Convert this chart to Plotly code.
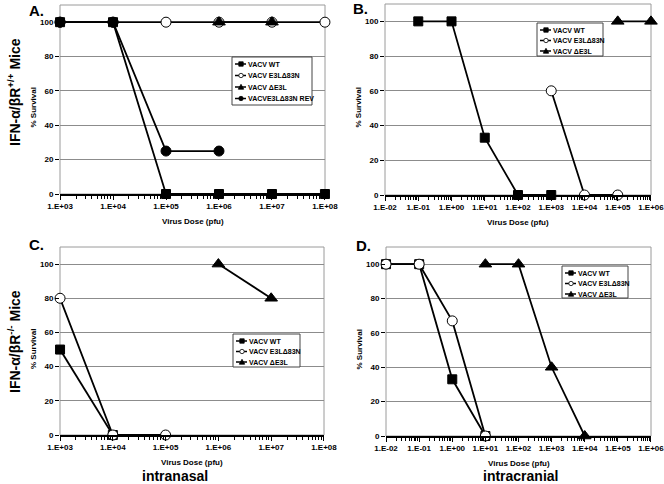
import plotly.graph_objects as go

# ---------------- data ----------------
names_A = ["VACV WT", "VACV E3LΔ83N", "VACV ΔE3L", "VACVE3LΔ83N REV"]
names_3 = ["VACV WT", "VACV E3LΔ83N", "VACV ΔE3L"]

# Panel A (IFN-a/bR+/+, intranasal)
A_wt_x = [1e3, 1e4, 1e5, 1e6, 1e7, 1e8]
A_wt_y = [100, 100, 0, 0, 0, 0]
A_e3_x = [1e3, 1e4, 1e5, 1e6, 1e7, 1e8]
A_e3_y = [100, 100, 100, 100, 100, 100]
A_de_x = [1e6, 1e7]
A_de_y = [100, 100]
A_rev_x = [1e3, 1e4, 1e5, 1e6]
A_rev_y = [100, 100, 25, 25]

# Panel B (IFN-a/bR+/+, intracranial)
B_wt_x = [1e-1, 1e0, 1e1, 1e2, 1e3]
B_wt_y = [100, 100, 33, 0, 0]
B_e3_x = [1e3, 1e4, 1e5]
B_e3_y = [60, 0, 0]
B_de_x = [1e5, 1e6]
B_de_y = [100, 100]

# Panel C (IFN-a/bR-/-, intranasal)
C_wt_x = [1e3, 1e4]
C_wt_y = [50, 0]
C_e3_x = [1e3, 1e4, 1e5]
C_e3_y = [80, 0, 0]
C_de_x = [1e6, 1e7]
C_de_y = [100, 80]

# Panel D (IFN-a/bR-/-, intracranial)
D_wt_x = [1e-2, 1e-1, 1e0, 1e1]
D_wt_y = [100, 100, 33, 0]
D_e3_x = [1e-2, 1e-1, 1e0, 1e1]
D_e3_y = [100, 100, 67, 0]
D_de_x = [1e1, 1e2, 1e3, 1e4]
D_de_y = [100, 100, 40, 0]

xt_in = [3, 4, 5, 6, 7, 8]
xt_ic = [-2, -1, 0, 1, 2, 3, 4, 5, 6]
yt = [0, 20, 40, 60, 80, 100]


def lab(k):
    return "1.E%s%02d" % ("+" if k >= 0 else "-", abs(k))


FONT = "Liberation Sans, Arial, sans-serif"
W, H = 664, 484


def px(x):
    return x / W


def py(y):
    return 1 - y / H


fig = go.Figure()

sty = {
    "VACV WT": dict(symbol="square", color="black", line=dict(color="black", width=1), size=9),
    "VACV E3LΔ83N": dict(symbol="circle", color="white", line=dict(color="black", width=1), size=10),
    "VACV ΔE3L": dict(symbol="triangle-up", color="black", line=dict(color="black", width=1), size=11),
    "VACVE3LΔ83N REV": dict(symbol="circle", color="black", line=dict(color="black", width=1), size=10),
}


def add(xs, ys, name, ax):
    fig.add_trace(go.Scatter(
        x=xs, y=ys, name=name, mode="lines+markers",
        line=dict(color="black", width=1.8),
        marker=sty[name], cliponaxis=False, showlegend=False,
        xaxis="x" + ax, yaxis="y" + ax,
    ))


add(A_e3_x, A_e3_y, names_A[1], "")
add(A_rev_x, A_rev_y, names_A[3], "")
add(A_wt_x, A_wt_y, names_A[0], "")
add(A_de_x, A_de_y, names_A[2], "")

add(B_wt_x, B_wt_y, names_3[0], "2")
add(B_e3_x, B_e3_y, names_3[1], "2")
add(B_de_x, B_de_y, names_3[2], "2")

add(C_wt_x, C_wt_y, names_3[0], "3")
add(C_e3_x, C_e3_y, names_3[1], "3")
add(C_de_x, C_de_y, names_3[2], "3")

add(D_wt_x, D_wt_y, names_3[0], "4")
add(D_e3_x, D_e3_y, names_3[1], "4")
add(D_de_x, D_de_y, names_3[2], "4")

# panel geometry in pixels: (x0, x1, ybottom, ytop) measured from top
panels = {
    "": (60, 325, 194, 5),
    "2": (385, 651, 195, 4),
    "3": (60, 324, 435, 247),
    "4": (386, 651, 436, 247),
}
xt_map = {"": xt_in, "2": xt_ic, "3": xt_in, "4": xt_ic}

tickfont = dict(family=FONT, size=8, color="black", weight="bold")
layout = dict(
    width=W, height=H, margin=dict(l=0, r=0, t=0, b=0),
    paper_bgcolor="white", plot_bgcolor="white",
    font=dict(family=FONT, color="black"),
    showlegend=False,
)

shapes = []
ann = []
small = dict(family=FONT, size=8, color="black", weight="bold")
EPS = 0.001
for ax, (x0, x1, yb, ytp) in panels.items():
    ks = xt_map[ax]
    layout["xaxis" + ax] = dict(
        type="log", range=[ks[0] - EPS, ks[-1] + EPS], domain=[px(x0), px(x1)],
        anchor="y" + ax, automargin=False, ticklabeloverflow="allow",
        tickvals=[10 ** k for k in ks], ticktext=[lab(k) for k in ks],
        tickfont=tickfont, showgrid=False, zeroline=False,
        showline=True, linecolor="black", linewidth=1.5,
        ticks="outside", ticklen=4, tickcolor="black",
        minor=dict(ticks="outside", ticklen=3, tickcolor="black", dtick="D1", showgrid=False),
    )
    layout["yaxis" + ax] = dict(
        range=[0, 110], domain=[py(yb), py(ytp)], anchor="x" + ax, automargin=False,
        tickvals=yt, ticktext=[str(v) for v in yt],
        tickfont=tickfont, showgrid=True, gridcolor="#8c8c8c", gridwidth=1,
        zeroline=False, showline=False,
        ticks="outside", ticklen=4, tickcolor="black",
    )
    shapes.append(dict(type="rect", xref=("x" + ax) + " domain", yref=("y" + ax) + " domain",
                       x0=0, x1=1, y0=0, y1=1, line=dict(color="#9a9a9a", width=1), layer="below"))
    # axis titles
    ann.append(dict(text="Virus Dose (pfu)", x=px((x0 + x1) / 2), y=py(yb + 27), xref="paper", yref="paper",
                    xanchor="center", yanchor="middle", showarrow=False, font=small))
    ann.append(dict(text="% Survival", x=px(x0 - 27), y=py((yb + ytp) / 2 + 8), xref="paper", yref="paper",
                    textangle=-90, xanchor="center", yanchor="middle", showarrow=False, font=small))

# ---------------- manual legends ----------------
legfont = dict(family=FONT, size=7, color="black", weight="bold")


def legend_box(x0, y0, x1, y1, names, step):
    shapes.append(dict(type="rect", xref="paper", yref="paper", x0=px(x0), x1=px(x1), y0=py(y0), y1=py(y1),
                       line=dict(color="#444", width=1), fillcolor="white", layer="above"))
    for i, n in enumerate(names):
        yy = y0 + 7 + i * step
        lx0, lx1, mx = x0 + 3, x0 + 14, x0 + 9
        shapes.append(dict(type="line", xref="paper", yref="paper", x0=px(lx0), x1=px(lx1),
                           y0=py(yy), y1=py(yy), line=dict(color="black", width=1.5), layer="above"))
        s = sty[n]["symbol"]
        fill = sty[n]["color"]
        r = 2.2
        if s == "square":
            shapes.append(dict(type="rect", xref="paper", yref="paper", x0=px(mx - r), x1=px(mx + r),
                               y0=py(yy - r), y1=py(yy + r), fillcolor=fill,
                               line=dict(color="black", width=0.8), layer="above"))
        elif s == "circle":
            shapes.append(dict(type="circle", xref="paper", yref="paper", x0=px(mx - r), x1=px(mx + r),
                               y0=py(yy - r), y1=py(yy + r), fillcolor=fill,
                               line=dict(color="black", width=0.8), layer="above"))
        else:
            path = "M %f %f L %f %f L %f %f Z" % (px(mx - r - 0.5), py(yy + r), px(mx + r + 0.5), py(yy + r),
                                                  px(mx), py(yy - r - 0.5))
            shapes.append(dict(type="path", xref="paper", yref="paper", path=path, fillcolor=fill,
                               line=dict(color="black", width=0.8), layer="above"))
        ann.append(dict(text=n, x=px(x0 + 14), y=py(yy), xref="paper", yref="paper",
                        xanchor="left", yanchor="middle", showarrow=False, font=legfont))


legend_box(232, 57, 312, 105, names_A, 11.5)
legend_box(537, 23, 603, 56, names_3, 10.5)
legend_box(233, 334, 300, 367, names_3, 10.5)
legend_box(562, 266, 628, 298, names_3, 10.5)

layout["shapes"] = shapes

big = dict(family=FONT, size=15, color="black", weight="bold")
for txt, x, y in [("A.", 27, 10), ("B.", 351, 9), ("C.", 27, 244), ("D.", 354, 245)]:
    ann.append(dict(text=txt, x=px(x), y=py(y), xref="paper", yref="paper",
                    xanchor="left", yanchor="middle", showarrow=False, font=big))
side = dict(family=FONT, size=14, color="black", weight="bold")
ann.append(dict(text="IFN-α/βR<sup>+/+</sup> Mice", x=px(14), y=py(92), xref="paper", yref="paper",
                textangle=-90, showarrow=False, font=side, xanchor="center", yanchor="middle"))
ann.append(dict(text="IFN-α/βR<sup>-/-</sup> Mice", x=px(14), y=py(342), xref="paper", yref="paper",
                textangle=-90, showarrow=False, font=side, xanchor="center", yanchor="middle"))
ann.append(dict(text="intranasal", x=px(175), y=0, xref="paper", yref="paper",
                showarrow=False, font=side, xanchor="center", yanchor="bottom", yshift=-2))
ann.append(dict(text="intracranial", x=px(520), y=0, xref="paper", yref="paper",
                showarrow=False, font=side, xanchor="center", yanchor="bottom", yshift=-2))
layout["annotations"] = ann

fig.update_layout(**layout)
fig.write_html("out.html", config={"displayModeBar": False},
               post_script="document.body.style.margin='0';document.body.style.overflow='hidden';")
